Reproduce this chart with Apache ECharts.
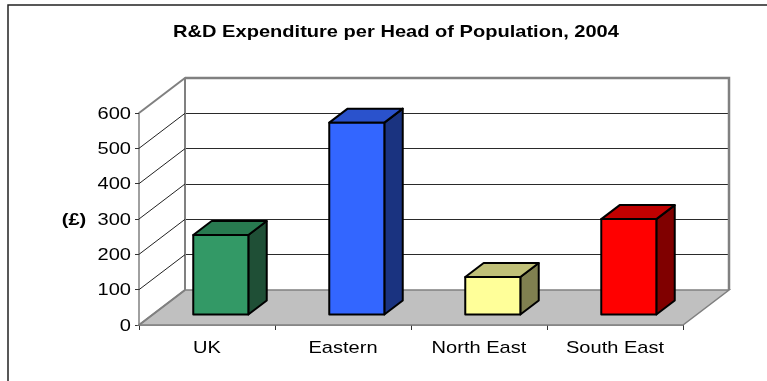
<!DOCTYPE html>
<html><head><meta charset="utf-8">
<script src="https://cdn.jsdelivr.net/npm/echarts@6/dist/echarts.min.js"></script>
<style>html,body{margin:0;padding:0;background:#fff}#c{width:767px;height:381px}</style>
</head><body><div id="c"></div>
<script>
// ---- data ----
const categories = ['UK', 'Eastern', 'North East', 'South East'];
const values = [225, 543, 106, 270];
const yTicks = [0, 100, 200, 300, 400, 500, 600];
const titleText = 'R&D Expenditure per Head of Population, 2004';
const yName = '(£)';

// ---- styles ----
const frontColors = ['#339966', '#3366FF', '#FFFF99', '#FF0000'];
const topColors = ['#287a50', '#2a52cc', '#c0c078', '#c00000'];
const sideColors = ['#1f4f36', '#1a3380', '#808050', '#800000'];
const DX = 46, DY = -35;          // depth offset of the 3D box
const FONT = '"Liberation Sans", Arial, sans-serif';
const SX = 1.18;                  // horizontal stretch of the text

const chart = echarts.init(document.getElementById('c'), null, {renderer: 'canvas'});

const option = {
  animation: false,
  backgroundColor: '#fff',
  grid: [
    {left: 139, right: 84, top: 113, bottom: 56},
    {left: 185, right: 38, top: 78, bottom: 91}
  ],
  xAxis: [
    {gridIndex: 0, type: 'category', data: categories,
     axisLine: {show: true, lineStyle: {color: '#808080', width: 1.5}},
     axisTick: {show: true, length: 5, lineStyle: {color: '#333'}},
     axisLabel: {show: false}, splitLine: {show: false}},
    {gridIndex: 1, type: 'category', data: categories, show: false}
  ],
  yAxis: [
    {gridIndex: 0, type: 'value', min: 0, max: 600, interval: 100,
     axisLine: {show: true, lineStyle: {color: '#808080', width: 1.5}},
     axisTick: {show: true, length: 4, lineStyle: {color: '#333'}},
     axisLabel: {show: false}, splitLine: {show: false}},
    {gridIndex: 1, type: 'value', min: 0, max: 600, interval: 100,
     axisLine: {show: true, lineStyle: {color: '#808080', width: 2}},
     axisTick: {show: false}, axisLabel: {show: false},
     splitLine: {show: true, lineStyle: {color: '#2a2a2a', width: 1}}}
  ],
  graphic: [
    {type: 'rect', shape: {x: 8, y: 5, width: 900, height: 500},
     style: {fill: 'none', stroke: '#222', lineWidth: 1.5}, z: 0, silent: true},
    {type: 'text', x: 396, y: 32, scaleX: SX, z: 10,
     style: {text: titleText, font: 'bold 17px ' + FONT, fill: '#000',
             textAlign: 'center', textVerticalAlign: 'middle'}},
    {type: 'text', x: 74, y: 220, scaleX: SX, z: 10,
     style: {text: yName, font: 'bold 17px ' + FONT, fill: '#000',
             textAlign: 'center', textVerticalAlign: 'middle'}}
  ],
  series: [
    // back wall border (top + right edge)
    {type: 'custom', xAxisIndex: 1, yAxisIndex: 1, z: 1, silent: true,
     data: [[0, yTicks[yTicks.length - 1]]],
     renderItem: function (params, api) {
       const cs = params.coordSys;
       const top = api.coord([0, api.value(1)])[1];
       return {type: 'polyline',
         shape: {points: [[cs.x, top], [cs.x + cs.width, top], [cs.x + cs.width, cs.y + cs.height]]},
         style: {stroke: '#808080', lineWidth: 2.5, fill: 'none'}};
     }},
    // floor, side-wall grid lines and y labels
    {type: 'custom', xAxisIndex: 0, yAxisIndex: 0, z: 2, silent: true,
     data: yTicks.map(v => [0, v]),
     renderItem: function (params, api) {
       const cs = params.coordSys;
       const v = api.value(1);
       const y = api.coord([0, v])[1];
       const x0 = cs.x;
       const children = [];
       if (params.dataIndex === 0) {
         const yb = api.coord([0, 0])[1];
         children.push({type: 'polygon',
           shape: {points: [[x0, yb], [x0 + cs.width, yb], [x0 + cs.width + DX, yb + DY], [x0 + DX, yb + DY]]},
           style: {fill: '#c0c0c0', stroke: '#808080', lineWidth: 1.5}});
       }
       const edge = (v === yTicks[0] || v === yTicks[yTicks.length - 1]);
       children.push({type: 'line',
         shape: {x1: x0, y1: y, x2: x0 + DX, y2: y + DY},
         style: {stroke: edge ? '#808080' : '#222', lineWidth: edge ? 2 : 1}});
       children.push({type: 'text', x: x0 - 8, y: y + 1, scaleX: SX,
         style: {text: String(v), font: '17px ' + FONT, fill: '#000',
                 textAlign: 'right', textVerticalAlign: 'middle'}});
       return {type: 'group', children: children};
     }},
    // 3D bars
    {type: 'custom', xAxisIndex: 0, yAxisIndex: 0, z: 3, silent: true,
     data: values.map((v, i) => [i, v]),
     renderItem: function (params, api) {
       const cs = params.coordSys;
       const i = api.value(0);
       const p0 = api.coord([i, 0]);
       const p1 = api.coord([i, api.value(1)]);
       const band = api.size([1, 0])[0];
       const w = band * 0.405;
       const f = 0.3, d = 0.4;
       const L = p0[0] - w / 2 + f * DX, R = L + w;
       const B = p0[1] + f * DY, T = p1[1] + f * DY;
       const ddx = d * DX, ddy = d * DY;
       const st = {stroke: '#000', lineWidth: 2, lineJoin: 'round'};
       return {type: 'group', children: [
         {type: 'polygon', shape: {points: [[R, T], [R + ddx, T + ddy], [R + ddx, B + ddy], [R, B]]},
          style: Object.assign({fill: sideColors[i]}, st)},
         {type: 'polygon', shape: {points: [[L, T], [R, T], [R + ddx, T + ddy], [L + ddx, T + ddy]]},
          style: Object.assign({fill: topColors[i]}, st)},
         {type: 'rect', shape: {x: L, y: T, width: w, height: B - T},
          style: Object.assign({fill: frontColors[i]}, st)},
         {type: 'text', x: p0[0], y: cs.y + cs.height + 23, scaleX: SX,
          style: {text: categories[i], font: '17px ' + FONT, fill: '#000',
                  textAlign: 'center', textVerticalAlign: 'middle'}}
       ]};
     }}
  ]
};
chart.setOption(option);
</script>
</body></html>
